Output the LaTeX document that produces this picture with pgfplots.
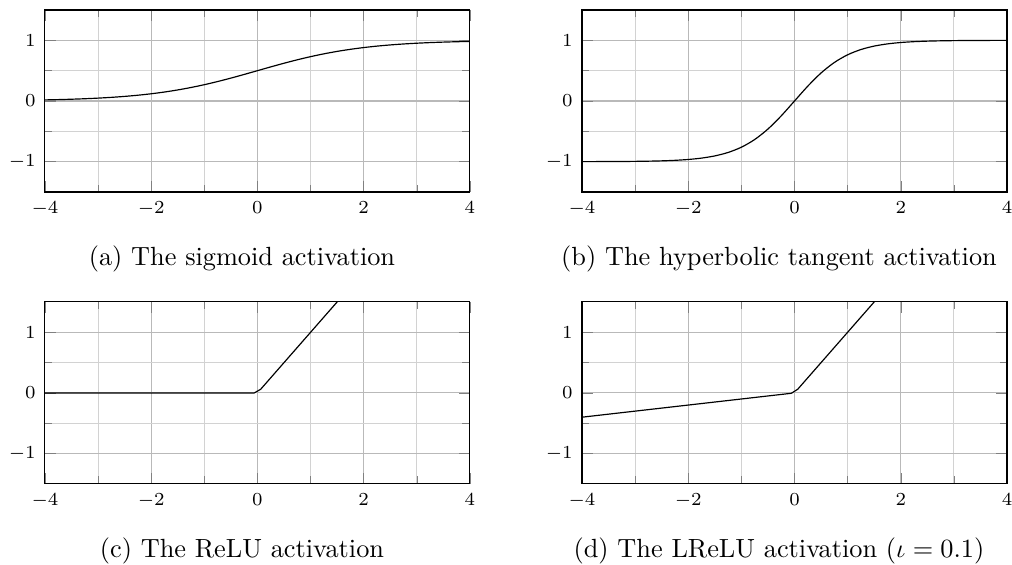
\documentclass[border=0pt]{standalone}
\usepackage{pgfplots}
\pgfplotsset{compat=1.18}

\pgfplotsset{
  actplot/.style={
    scale only axis,
    width=161.6pt, height=69.2pt,
    xmin=-4, xmax=4, ymin=-1.5, ymax=1.5,
    xtick={-4,-2,0,2,4},
    ytick={-1,0,1},
    minor xtick={-3,-1,1,3},
    minor ytick={-0.5,0.5},
    grid=both,
    major grid style={gray!55, line width=0.4pt},
    minor grid style={gray!35, line width=0.4pt},
    tick label style={font=\scriptsize},
    clip=true,
  },
  act/.style={black, line width=0.45pt, no markers},
}

\begin{document}
\begin{tikzpicture}
\path[use as bounding box] (0pt,0pt) rectangle (384.8pt,-214.8pt);

% sigmoid
\begin{axis}[actplot, at={(17.1pt,-3.8pt)}, anchor=north west]
\addplot[act, smooth] coordinates {
(-4,0.01799) (-3.75,0.02298) (-3.5,0.02931) (-3.25,0.03732) (-3,0.04743)
(-2.75,0.06008) (-2.5,0.07586) (-2.25,0.09534) (-2,0.11920) (-1.75,0.14805)
(-1.5,0.18243) (-1.25,0.22270) (-1,0.26894) (-0.75,0.32082) (-0.5,0.37754)
(-0.25,0.43782) (0,0.5) (0.25,0.56218) (0.5,0.62246) (0.75,0.67918)
(1,0.73106) (1.25,0.77730) (1.5,0.81757) (1.75,0.85195) (2,0.88080)
(2.25,0.90466) (2.5,0.92414) (2.75,0.93992) (3,0.95257) (3.25,0.96268)
(3.5,0.97069) (3.75,0.97702) (4,0.98201)};
\end{axis}

% hyperbolic tangent
\begin{axis}[actplot, at={(221.3pt,-3.8pt)}, anchor=north west]
\addplot[act, smooth] coordinates {
(-4,-0.99933) (-3.75,-0.99889) (-3.5,-0.99818) (-3.25,-0.99700) (-3,-0.99505)
(-2.75,-0.99186) (-2.5,-0.98661) (-2.25,-0.97803) (-2,-0.96403) (-1.75,-0.94138)
(-1.5,-0.90515) (-1.25,-0.84828) (-1,-0.76159) (-0.75,-0.63515) (-0.5,-0.46212)
(-0.25,-0.24492) (0,0) (0.25,0.24492) (0.5,0.46212) (0.75,0.63515)
(1,0.76159) (1.25,0.84828) (1.5,0.90515) (1.75,0.94138) (2,0.96403)
(2.25,0.97803) (2.5,0.98661) (2.75,0.99186) (3,0.99505) (3.25,0.99700)
(3.5,0.99818) (3.75,0.99889) (4,0.99933)};
\end{axis}

% ReLU
\begin{axis}[actplot, at={(17.1pt,-114.8pt)}, anchor=north west]
\addplot[act] coordinates {(-4,0) (-0.06,0) (0.06,0.06) (1.5,1.5) (4,4)};
\end{axis}

% leaky ReLU
\begin{axis}[actplot, at={(221.3pt,-114.8pt)}, anchor=north west]
\addplot[act] coordinates {(-4,-0.4) (-0.06,-0.006) (0.06,0.06) (1.5,1.5) (4,4)};
\end{axis}

\node[anchor=base] at (92.0pt,-101.1pt) {(a) The sigmoid activation};
\node[anchor=base] at (296.2pt,-101.1pt) {(b) The hyperbolic tangent activation};
\node[anchor=base] at (92.0pt,-211.8pt) {(c) The ReLU activation};
\node[anchor=base] at (296.2pt,-211.8pt) {(d) The LReLU activation ($\iota = 0.1$)};
\end{tikzpicture}
\end{document}
